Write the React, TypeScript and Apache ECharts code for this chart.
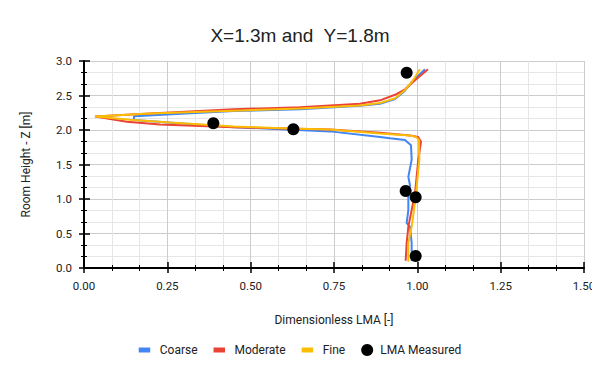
import React, { useEffect, useRef } from "react";
import * as echarts from "echarts";

// Dimensionless LMA (x) vs room height Z in m (y)
const coarseLMA = [0.983, 0.983, 0.978, 0.968, 0.973, 0.973, 0.978, 0.973, 0.983, 0.981, 0.963, 0.918, 0.888, 0.738, 0.45, 0.15, 0.15, 0.45, 0.648, 0.828, 0.888, 0.933, 0.963, 0.984, 1.023];
const coarseZ = [0.10, 0.36, 0.60, 0.65, 0.84, 1.08, 1.20, 1.32, 1.57, 1.78, 1.855, 1.88, 1.90, 1.98, 2.04, 2.145, 2.20, 2.275, 2.30, 2.35, 2.38, 2.45, 2.57, 2.70, 2.88];

const moderateLMA = [0.965, 0.968, 0.973, 0.983, 0.993, 1.003, 1.011, 1.002, 0.978, 0.888, 0.738, 0.45, 0.228, 0.129, 0.033, 0.198, 0.45, 0.648, 0.828, 0.888, 0.933, 0.963, 0.993, 1.032];
const moderateZ = [0.105, 0.36, 0.60, 0.84, 1.08, 1.57, 1.83, 1.90, 1.92, 1.96, 2.007, 2.04, 2.08, 2.12, 2.195, 2.24, 2.30, 2.33, 2.38, 2.43, 2.51, 2.59, 2.72, 2.88];

const fineLMA = [0.973, 0.973, 0.983, 0.990, 0.996, 1.006, 1.005, 0.996, 0.978, 0.888, 0.738, 0.618, 0.45, 0.258, 0.138, 0.033, 0.198, 0.45, 0.648, 0.828, 0.888, 0.933, 0.963, 0.984, 1.008];
const fineZ = [0.09, 0.36, 0.60, 0.84, 1.08, 1.57, 1.855, 1.90, 1.92, 1.95, 2.007, 2.02, 2.05, 2.11, 2.15, 2.195, 2.24, 2.28, 2.31, 2.355, 2.39, 2.46, 2.58, 2.70, 2.88];

const measuredLMA = [0.968, 0.388, 0.628, 0.965, 0.995, 0.995];
const measuredZ = [2.83, 2.097, 2.01, 1.116, 1.025, 0.174];

const seriesNames = ["Coarse", "Moderate", "Fine", "LMA Measured"];
const colors = ["#4285F4", "#EA4335", "#FBBC04", "#000000"];

const pair = (xs: number[], ys: number[]) => xs.map((x, i) => [x, ys[i]]);

const lineIcon = "path://M0,0 L0,0 M0,3.5 L11.5,3.5 L11.5,8.5 L0,8.5 Z M16,12 L16,12";

export default function App() {
  const ref = useRef<HTMLDivElement>(null);
  useEffect(() => {
    if (!ref.current) return;
    const chart = echarts.init(ref.current, undefined, { renderer: "svg" });
    const font = "Roboto, 'Liberation Sans', Arial, sans-serif";
    const titleFont = "'Liberation Sans', Arial, sans-serif";
    const xBase = { type: "value", min: 0, max: 1.5, interval: 0.25, gridIndex: 0, position: "bottom" };
    const yBase = { type: "value", min: 0, max: 3, interval: 0.5, gridIndex: 0, position: "left" };
    const lineSeries = (name: string, data: number[][], color: string) => ({
      name,
      type: "line",
      data,
      symbol: "none",
      showSymbol: false,
      lineStyle: { color, width: 2 },
      itemStyle: { color },
      xAxisIndex: 0,
      yAxisIndex: 0,
    });
    chart.setOption({
      animation: false,
      textStyle: { fontFamily: font },
      title: {
        text: "X=1.3m and  Y=1.8m",
        left: "center",
        top: 21,
        textStyle: { fontSize: 19, fontWeight: "normal", color: "#222", fontFamily: titleFont },
      },
      legend: {
        top: 339,
        left: "center",
        itemWidth: 16,
        itemHeight: 12,
        itemGap: 16,
        textStyle: { fontSize: 12, color: "#222", fontFamily: font },
        data: [
          { name: seriesNames[0], icon: lineIcon },
          { name: seriesNames[1], icon: lineIcon },
          { name: seriesNames[2], icon: lineIcon },
          { name: seriesNames[3], icon: "circle" },
        ],
      },
      grid: { left: 84, right: 16, top: 61, bottom: 103, containLabel: false },
      xAxis: [
        {
          ...xBase,
          name: "Dimensionless LMA [-]",
          nameLocation: "middle",
          nameGap: 46,
          nameTextStyle: { fontSize: 12, color: "#222", fontFamily: font, verticalAlign: "top" },
          axisLine: { show: true, lineStyle: { color: "#000", width: 2 } },
          axisTick: { show: true, length: 5, lineStyle: { color: "#000", width: 1.5 } },
          minorTick: { show: true, splitNumber: 3, length: 3, lineStyle: { color: "#000", width: 1 } },
          axisLabel: { margin: 12, fontSize: 11.5, color: "#222", fontFamily: font, formatter: (v: number) => v.toFixed(2) },
          splitLine: { show: true, lineStyle: { color: "#cccccc", width: 1 } },
          minorSplitLine: { show: true, lineStyle: { color: "#e6e6e6", width: 1 } },
        },
        {
          ...xBase,
          axisLine: { show: false },
          axisTick: { show: true, inside: true, length: 6, lineStyle: { color: "#000", width: 1.5 } },
          minorTick: { show: true, splitNumber: 3, length: 3, lineStyle: { color: "#000", width: 1 } },
          axisLabel: { show: false },
          splitLine: { show: false },
        },
      ],
      yAxis: [
        {
          ...yBase,
          name: "Room Height - Z [m]",
          nameLocation: "middle",
          nameGap: 52,
          nameRotate: 90,
          nameTextStyle: { fontSize: 12, color: "#222", fontFamily: font },
          axisLine: { show: true, lineStyle: { color: "#000", width: 2 } },
          axisTick: { show: true, length: 5, lineStyle: { color: "#000", width: 1.5 } },
          minorTick: { show: true, splitNumber: 3, length: 3, lineStyle: { color: "#000", width: 1 } },
          axisLabel: { margin: 12, fontSize: 11.5, color: "#222", fontFamily: font, formatter: (v: number) => v.toFixed(1) },
          splitLine: { show: true, lineStyle: { color: "#cccccc", width: 1 } },
          minorSplitLine: { show: true, lineStyle: { color: "#e6e6e6", width: 1 } },
        },
        {
          ...yBase,
          axisLine: { show: false },
          axisTick: { show: true, inside: true, length: 6, lineStyle: { color: "#000", width: 1.5 } },
          minorTick: { show: true, splitNumber: 3, length: 3, lineStyle: { color: "#000", width: 1 } },
          axisLabel: { show: false },
          splitLine: { show: false },
        },
      ],
      series: [
        lineSeries(seriesNames[0], pair(coarseLMA, coarseZ), colors[0]),
        lineSeries(seriesNames[1], pair(moderateLMA, moderateZ), colors[1]),
        lineSeries(seriesNames[2], pair(fineLMA, fineZ), colors[2]),
        {
          name: seriesNames[3],
          type: "scatter",
          data: pair(measuredLMA, measuredZ),
          symbol: "circle",
          symbolSize: 12,
          itemStyle: { color: colors[3], opacity: 1 },
          xAxisIndex: 0,
          yAxisIndex: 0,
          z: 5,
        },
      ],
    });
    return () => chart.dispose();
  }, []);
  return <div ref={ref} style={{ width: 600, height: 371, margin: -8 }} />;
}
